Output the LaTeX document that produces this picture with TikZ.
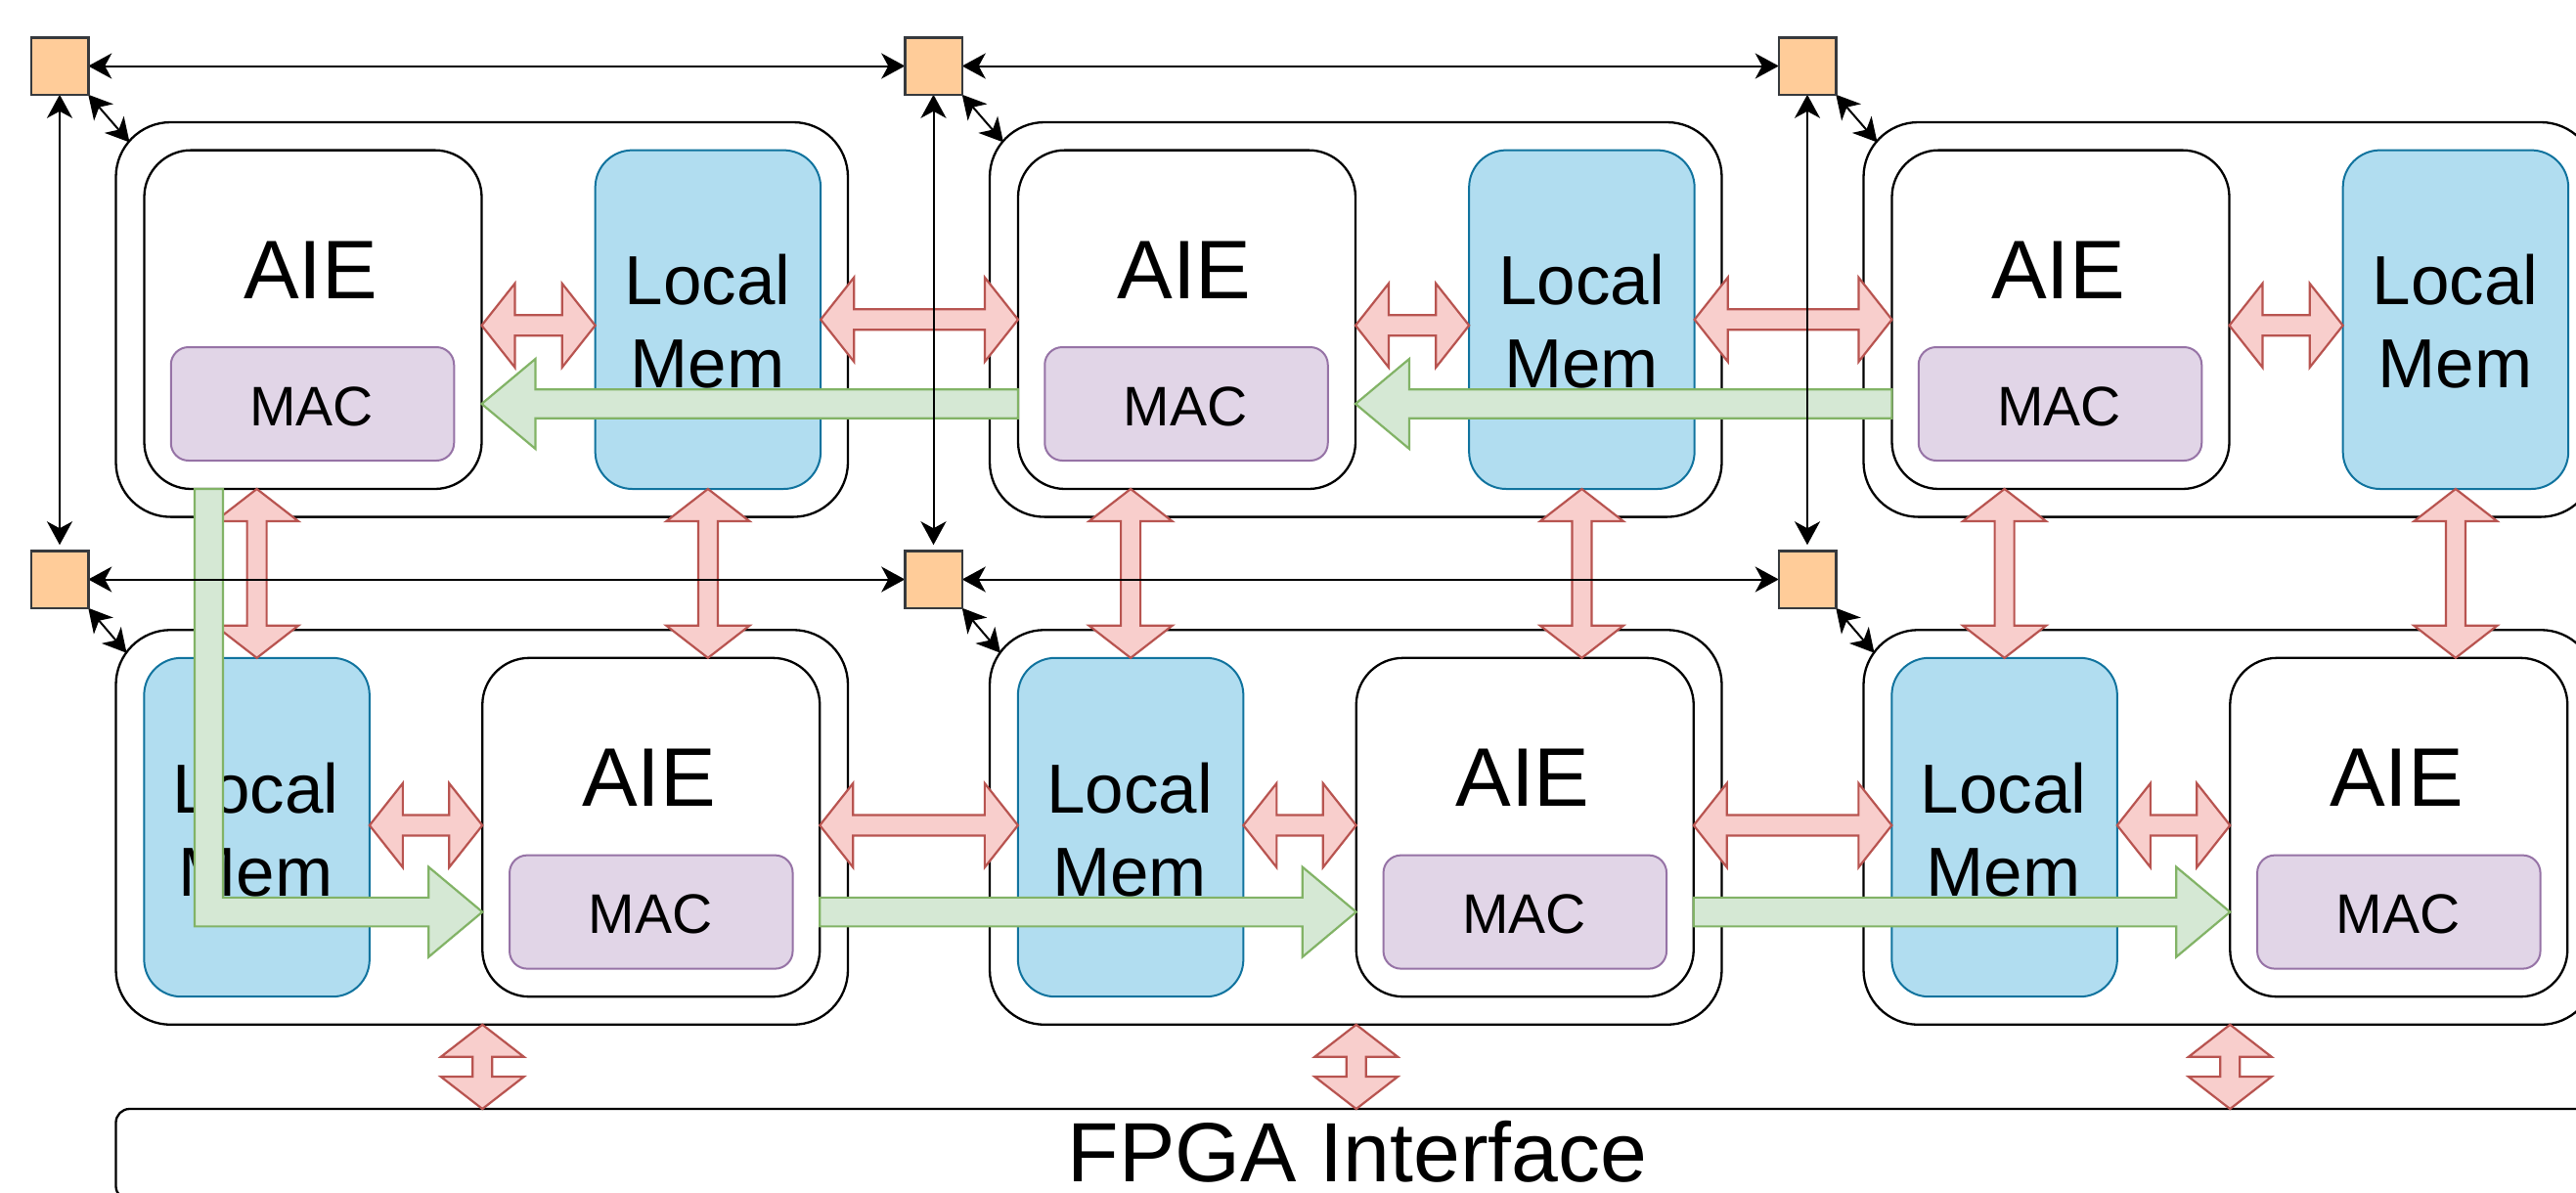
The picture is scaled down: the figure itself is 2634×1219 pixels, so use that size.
\documentclass[tikz,border=0pt]{standalone}
\usepackage{fontspec}
\setmainfont{Liberation Sans}
\usetikzlibrary{arrows.meta,calc}
\definecolor{redfill}{HTML}{F8CECC}
\definecolor{redline}{HTML}{B85450}
\definecolor{greenfill}{HTML}{D5E8D4}
\definecolor{greenline}{HTML}{82B366}
\definecolor{bluefill}{HTML}{B1DDF0}
\definecolor{blueline}{HTML}{10739E}
\definecolor{macfill}{HTML}{E1D5E7}
\definecolor{macline}{HTML}{9673A6}
\definecolor{sqfill}{HTML}{FFCC99}
\definecolor{sqline}{HTML}{36393D}
\tikzset{
  box/.style={draw=black, line width=2.3pt, rectangle, inner sep=0pt, outer sep=0pt},
  outerbox/.style={box, rounded corners=56pt, minimum width=748.5pt, minimum height=403.6pt},
  aiebox/.style={box, rounded corners=48pt, minimum width=345pt, minimum height=346.4pt, fill=white},
  lmbox/.style={box, draw=blueline, line width=2pt, fill=bluefill, rounded corners=38pt, minimum width=230.5pt, minimum height=346.4pt},
  macbox/.style={box, draw=macline, line width=2pt, fill=macfill, rounded corners=18pt, minimum width=289.5pt, minimum height=116pt},
  fpgabox/.style={box, rounded corners=14pt, minimum width=2539pt, minimum height=93pt},
  sqbox/.style={draw=sqline, fill=sqfill, line width=2.5pt, minimum width=58.5pt, minimum height=58.5pt, inner sep=0pt, outer sep=0pt},
  aietext/.style={anchor=base, inner sep=0pt, font=\fontsize{85}{100}\selectfont},
  mactext/.style={anchor=base, inner sep=0pt, font=\fontsize{57}{68}\selectfont},
  lmtext/.style={anchor=base, inner sep=0pt, font=\fontsize{71}{85}\selectfont},
  fpgatext/.style={anchor=base, inner sep=0pt, font=\fontsize{86}{100}\selectfont},
  bus/.style={line width=2pt, {Stealth[length=24pt,width=26pt,inset=7pt]}-{Stealth[length=24pt,width=26pt,inset=7pt]}},
  redarr/.style={draw=redline, fill=redfill, line width=2.2pt, line join=miter},
  greenarr/.style={draw=greenline, fill=greenfill, line width=2.2pt, line join=miter},
}
% horizontal red double arrow between two points (left, right)
\newcommand\hdarr[2]{%
  \draw[redarr] let \p1=#1, \p2=#2 in
  (\x1,\y1) -- (\x1+34pt,\y1+43pt) -- (\x1+34pt,\y1+10.5pt) -- (\x2-34pt,\y1+10.5pt)
  -- (\x2-34pt,\y1+43pt) -- (\x2,\y1) -- (\x2-34pt,\y1-43pt) -- (\x2-34pt,\y1-10.5pt)
  -- (\x1+34pt,\y1-10.5pt) -- (\x1+34pt,\y1-43pt) -- cycle;}
% vertical red double arrow between two points (top, bottom)
\newcommand\vdarr[2]{%
  \draw[redarr] let \p1=#1, \p2=#2 in
  (\x1,\y1) -- (\x1+42.5pt,\y1-33pt) -- (\x1+10pt,\y1-33pt) -- (\x1+10pt,\y2+33pt)
  -- (\x1+42.5pt,\y2+33pt) -- (\x1,\y2) -- (\x1-42.5pt,\y2+33pt) -- (\x1-10pt,\y2+33pt)
  -- (\x1-10pt,\y1-33pt) -- (\x1-42.5pt,\y1-33pt) -- cycle;}
% green arrow pointing right: start, tip
\newcommand\garrR[2]{%
  \draw[greenarr] let \p1=#1, \p2=#2 in
  (\x1,\y2+14.75pt) -- (\x2-55pt,\y2+14.75pt) -- (\x2-55pt,\y2+46pt) -- (\x2,\y2)
  -- (\x2-55pt,\y2-46pt) -- (\x2-55pt,\y2-14.75pt) -- (\x1,\y2-14.75pt) -- cycle;}
% green arrow pointing left: start, tip
\newcommand\garrL[2]{%
  \draw[greenarr] let \p1=#1, \p2=#2 in
  (\x1,\y2+14.75pt) -- (\x2+55pt,\y2+14.75pt) -- (\x2+55pt,\y2+46pt) -- (\x2,\y2)
  -- (\x2+55pt,\y2-46pt) -- (\x2+55pt,\y2-14.75pt) -- (\x1,\y2-14.75pt) -- cycle;}
\begin{document}
\begin{tikzpicture}[x=1pt,y=-1pt]
\useasboundingbox (0,0) rectangle (2634,1219);
\clip (0,0) rectangle (2634,1219);
% tiles
\foreach \tc in {0,1,2}{
  \pgfmathsetmacro\X{\tc*893.5}
  % top row
  \node[outerbox] (o0\tc) at (492.75+\X, 326.8) {};
  \node[aiebox] (a0\tc) at (320+\X, 326.8) {};
  \node[lmbox] (l0\tc) at (723.9+\X, 326.8) {};
  \node[macbox] (m0\tc) at (319.5+\X, 413) {};
  \node[aietext] (ta0\tc) at (317.5+\X, 305.4) {AIE};
  \node[mactext] (tm0\tc) at (318.5+\X, 435.5) {MAC};
  \node[lmtext] (tl0\tc) at (723.5+\X, 311.8) {Local};
  \node[lmtext] (tn0\tc) at (723.5+\X, 396) {Mem};
  % bottom row
  \node[outerbox] (o1\tc) at (492.75+\X, 846) {};
  \node[lmbox] (l1\tc) at (262.6+\X, 846) {};
  \node[aiebox] (a1\tc) at (665.75+\X, 846) {};
  \node[macbox] (m1\tc) at (665.8+\X, 932.6) {};
  \node[aietext] (ta1\tc) at (663.5+\X, 824.6) {AIE};
  \node[mactext] (tm1\tc) at (665+\X, 954.3) {MAC};
  \node[lmtext] (tl1\tc) at (261.5+\X, 831.8) {Local};
  \node[lmtext] (tn1\tc) at (261.5+\X, 916.4) {Mem};
  % switches
  \node[sqbox] (s0\tc) at (61+\X, 67.5) {};
  \node[sqbox] (s1\tc) at (61+\X, 592.5) {};
}
% FPGA interface
\node[fpgabox] (fpga) at (1388, 1180.5) {};
\node[fpgatext] (tf) at (1388, 1208.3) {FPGA Interface};
% red arrows
\foreach \tc in {0,1,2}{
  \hdarr{([yshift=-6pt]a0\tc.east)}{([yshift=-6pt]l0\tc.west)}
  \hdarr{([yshift=2pt]l1\tc.east)}{([yshift=2pt]a1\tc.west)}
  \vdarr{(l1\tc.north |- a0\tc.south)}{(l1\tc.north)}
  \vdarr{(l0\tc.south)}{(l0\tc.south |- a1\tc.north)}
  \vdarr{(a1\tc.west |- o1\tc.south)}{(a1\tc.west |- fpga.north)}
}
\foreach \tc in {0,1}{
  \pgfmathtruncatemacro\tn{\tc+1}
  \hdarr{(l0\tc.east)}{(a0\tn.west)}
  \hdarr{([yshift=2pt]a1\tc.east)}{([yshift=2pt]l1\tn.west)}
}
% green arrows
\foreach \tc in {0,1}{
  \pgfmathtruncatemacro\tn{\tc+1}
  \garrL{(a0\tn.west)}{(a0\tc.east |- m0\tc.center)}
  \garrR{(a1\tc.east)}{(a1\tn.west |- m1\tn.center)}
}
\draw[greenarr] let \p1=(a00.south west), \p2=(a10.west |- m10.center) in
  (\x1+51.5pt,\y1) -- (\x1+80.5pt,\y1) -- (\x1+80.5pt,\y2+14.75pt) -- (\x2-55pt,\y2+14.75pt)
  -- (\x2-55pt,\y2+46pt) -- (\x2,\y2) -- (\x2-55pt,\y2-46pt) -- (\x2-55pt,\y2-14.75pt)
  -- (\x1+51.5pt,\y2-14.75pt) -- cycle;
% black interconnect arrows
\foreach \tc in {0,1}{
  \pgfmathtruncatemacro\tn{\tc+1}
  \draw[bus] (s0\tc.east) -- (s0\tn.west);
  \draw[bus] (s1\tc.east) -- (s1\tn.west);
}
\foreach \tc in {0,1,2}{
  \draw[bus, shorten >=6pt] (s0\tc.south) -- (s1\tc.north);
  \draw[bus] (s0\tc.south east) -- ([xshift=14pt,yshift=-20.5pt]o0\tc.north west);
  \draw[bus] (s1\tc.south east) -- ([xshift=11pt,yshift=-23.5pt]o1\tc.north west);
}
% redraw switches on top
\foreach \tc in {0,1,2}{
  \pgfmathsetmacro\X{\tc*893.5}
  \node[sqbox] (s0b\tc) at (61+\X, 67.5) {};
  \node[sqbox] (s1b\tc) at (61+\X, 592.5) {};
}
\end{tikzpicture}
\end{document}
